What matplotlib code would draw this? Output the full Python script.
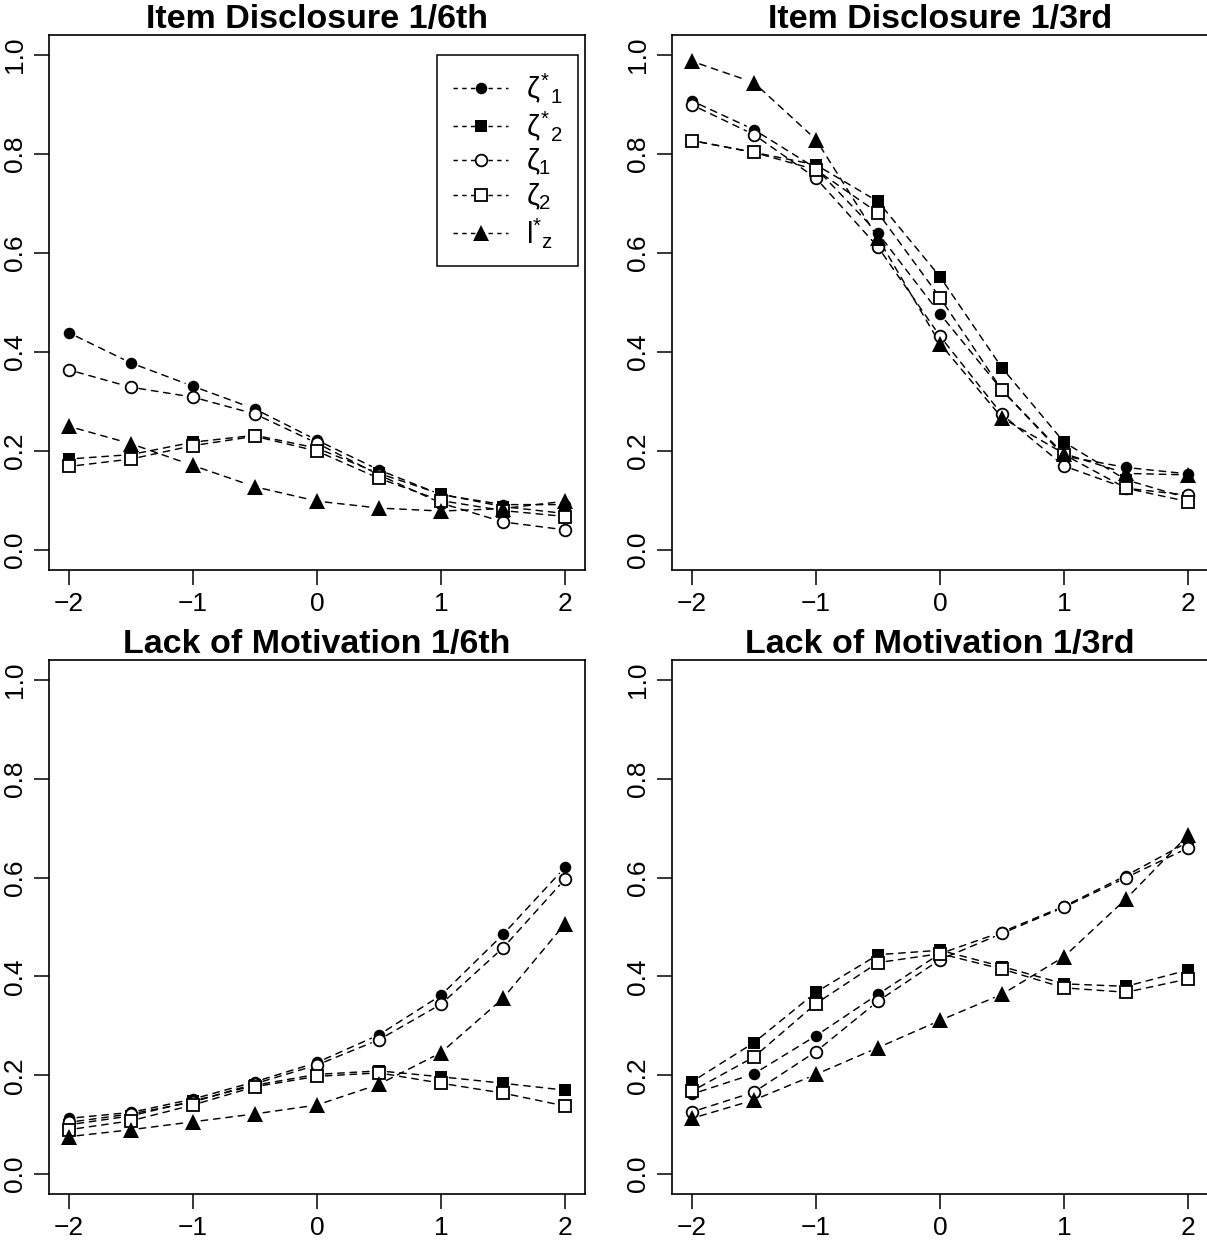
import matplotlib
matplotlib.use('Agg')
import matplotlib.pyplot as plt
from matplotlib.lines import Line2D

plt.rcParams['font.family'] = ['Liberation Sans', 'DejaVu Sans']
plt.rcParams['mathtext.fontset'] = 'custom'
plt.rcParams['mathtext.rm'] = 'Liberation Sans'
plt.rcParams['mathtext.it'] = 'Liberation Sans'

# theta grid
x = [-2, -1.5, -1, -0.5, 0, 0.5, 1, 1.5, 2]

# Item Disclosure 1/6th
id6_zs1 = [0.439, 0.378, 0.331, 0.285, 0.222, 0.162, 0.112, 0.092, 0.092]
id6_zs2 = [0.184, 0.193, 0.218, 0.232, 0.206, 0.155, 0.113, 0.088, 0.074]
id6_z1 = [0.364, 0.329, 0.309, 0.275, 0.216, 0.152, 0.095, 0.057, 0.041]
id6_z2 = [0.169, 0.184, 0.211, 0.230, 0.200, 0.145, 0.100, 0.080, 0.068]
id6_lz = [0.250, 0.215, 0.171, 0.128, 0.099, 0.085, 0.079, 0.084, 0.099]

# Item Disclosure 1/3rd
id3_zs1 = [0.907, 0.849, 0.771, 0.640, 0.477, 0.323, 0.190, 0.167, 0.154]
id3_zs2 = [0.827, 0.803, 0.778, 0.704, 0.552, 0.368, 0.218, 0.142, 0.105]
id3_z1 = [0.899, 0.839, 0.751, 0.612, 0.432, 0.274, 0.170, 0.125, 0.111]
id3_z2 = [0.827, 0.803, 0.768, 0.681, 0.510, 0.323, 0.193, 0.125, 0.098]
id3_lz = [0.987, 0.944, 0.829, 0.630, 0.417, 0.267, 0.195, 0.155, 0.152]

# Lack of Motivation 1/6th
lm6_zs1 = [0.113, 0.125, 0.152, 0.187, 0.226, 0.282, 0.362, 0.485, 0.621]
lm6_zs2 = [0.100, 0.118, 0.148, 0.180, 0.202, 0.209, 0.197, 0.184, 0.170]
lm6_z1 = [0.105, 0.122, 0.146, 0.183, 0.221, 0.272, 0.344, 0.458, 0.597]
lm6_z2 = [0.090, 0.108, 0.140, 0.177, 0.198, 0.205, 0.184, 0.164, 0.138]
lm6_lz = [0.076, 0.090, 0.106, 0.122, 0.140, 0.182, 0.246, 0.356, 0.507]

# Lack of Motivation 1/3rd
lm3_zs1 = [0.162, 0.203, 0.280, 0.364, 0.446, 0.490, 0.542, 0.604, 0.672]
lm3_zs2 = [0.187, 0.266, 0.368, 0.444, 0.453, 0.420, 0.385, 0.380, 0.413]
lm3_z1 = [0.126, 0.166, 0.248, 0.350, 0.434, 0.487, 0.540, 0.600, 0.660]
lm3_z2 = [0.168, 0.237, 0.345, 0.428, 0.446, 0.415, 0.377, 0.368, 0.395]
lm3_lz = [0.113, 0.150, 0.202, 0.256, 0.311, 0.364, 0.440, 0.557, 0.686]

titles = ['Item Disclosure 1/6th', 'Item Disclosure 1/3rd',
          'Lack of Motivation 1/6th', 'Lack of Motivation 1/3rd']
series_labels = [r'$\zeta^{*}{}_{1}$', r'$\zeta^{*}{}_{2}$', r'$\zeta_{1}$',
                 r'$\zeta_{2}$', r'$\mathrm{l}^{*}{}_{z}$']
yticks = [0.0, 0.2, 0.4, 0.6, 0.8, 1.0]
xticks = [-2, -1, 0, 1, 2]

panels = [
    [id6_zs1, id6_zs2, id6_z1, id6_z2, id6_lz],
    [id3_zs1, id3_zs2, id3_z1, id3_z2, id3_lz],
    [lm6_zs1, lm6_zs2, lm6_z1, lm6_z2, lm6_lz],
    [lm3_zs1, lm3_zs2, lm3_z1, lm3_z2, lm3_lz],
]

# marker, size, filled
styles = [('o', 8.3, True), ('s', 9.0, True), ('o', 8.4, False),
          ('s', 8.6, False), ('^', 11.4, True)]

W, H = 1207, 1240
fig = plt.figure(figsize=(W / 100, H / 100), dpi=100)

rects = [
    [49 / W, 1 - 570 / H, 536 / W, 535 / H],
    [672 / W, 1 - 570 / H, 536 / W, 535 / H],
    [49 / W, 1 - 1194 / H, 536 / W, 534 / H],
    [672 / W, 1 - 1194 / H, 536 / W, 534 / H],
]

dash = (4.5, 4)

for k, (rect, data) in enumerate(zip(rects, panels)):
    ax = fig.add_axes(rect)
    ax.set_xlim(-2.16, 2.16)
    ax.set_ylim(-0.04, 1.04)
    # dashed connecting segments with gaps around the points (like R type="b")
    for ys in data:
        for i in range(len(x) - 1):
            ax.annotate('', xy=(x[i + 1], ys[i + 1]), xytext=(x[i], ys[i]),
                        arrowprops=dict(arrowstyle='-', color='black', lw=1.05,
                                        linestyle=(0, dash), shrinkA=6, shrinkB=6))
    for ys, (m, ms, filled) in zip(data, styles):
        ax.plot(x, ys, linestyle='none', marker=m, markersize=ms,
                markerfacecolor='black' if filled else 'white',
                markeredgecolor='black', markeredgewidth=0 if filled else 1.3,
                zorder=3)
    ax.set_xticks(xticks)
    ax.set_xticklabels(['\u22122', '\u22121', '0', '1', '2'])
    ax.set_yticks(yticks)
    ax.set_yticklabels(['%.1f' % v for v in yticks], rotation=90, va='center')
    ax.tick_params(axis='both', direction='out', length=11, width=1.1,
                   labelsize=19, pad=5)
    for sp in ax.spines.values():
        sp.set_linewidth(1.2)
    ax.set_title(titles[k], fontsize=24.5, fontweight='bold', pad=4)

    if k == 0:
        handles = []
        for (m, ms, filled), lab in zip(styles, series_labels):
            handles.append(Line2D([0], [0], color='black', lw=1.05,
                                  linestyle=(0, (3, 3)), marker=m, markersize=ms,
                                  markerfacecolor='black' if filled else 'white',
                                  markeredgecolor='black',
                                  markeredgewidth=0 if filled else 1.3))
        leg = ax.legend(handles, series_labels, loc='upper right',
                        bbox_to_anchor=(0.987, 0.9625), borderaxespad=0,
                        fontsize=21, handlelength=1.9, handletextpad=0.6,
                        labelspacing=0.14, borderpad=0.55, fancybox=False,
                        edgecolor='black', framealpha=1)
        leg.get_frame().set_linewidth(1.1)

fig.savefig('out.png', dpi=100)
